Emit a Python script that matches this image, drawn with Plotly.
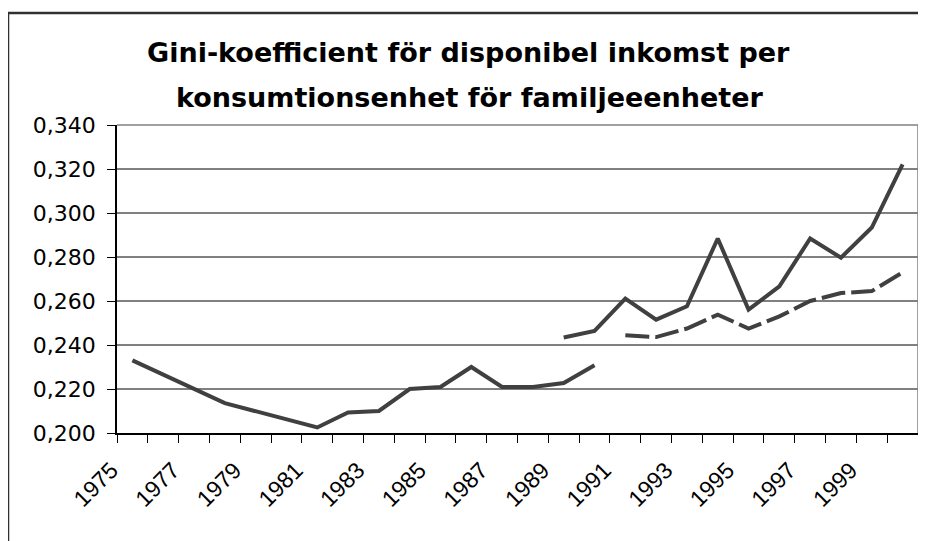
import plotly.graph_objects as go

years = list(range(1975, 2001))

# Series 1: solid, 1975-1990 (gaps bridged as in the original)
series_old = [0.2330, None, None, 0.2136, None, None, 0.2025, 0.2093, 0.2100, 0.2200,
              0.2209, 0.2300, 0.2209, 0.2209, 0.2227, 0.2308,
              None, None, None, None, None, None, None, None, None, None]

# Series 2: solid, 1989-2000
series_new = [None] * 14 + [0.2434, 0.2464, 0.2611, 0.2515, 0.2576, 0.2884, 0.2561,
                            0.2667, 0.2884, 0.2797, 0.2934, 0.3221]

# Series 3: dashed, 1991-2000
series_dash = [None] * 16 + [0.2444, 0.2436, 0.2475, 0.2538, 0.2475, 0.2530, 0.2600,
                             0.2636, 0.2645, 0.2730]

x_labels = [str(y) for y in range(1975, 2000, 2)]
y_ticks = [0.200, 0.220, 0.240, 0.260, 0.280, 0.300, 0.320, 0.340]

title_lines = ["Gini-koefficient för disponibel inkomst per",
               "konsumtionsenhet för familjeeenheter"]

LINE = "#404040"
FONT_X = "Liberation Sans, Arial, sans-serif"
FONT_W = "DejaVu Sans, Verdana, sans-serif"

OFF = 8  # browser body margin
W, H = 926 - OFF, 541 - OFF
# plot area in page pixels: x 117..918, y 125..433
ML = 117 - OFF
MR = W - (918 - OFF)
MT = 125 - OFF
MB = H - (433 - OFF)
PW, PH = W - ML - MR, H - MT - MB


def px2x(px):
    return (px - OFF - ML) / PW


def py2y(py):
    return (H - MB - (py - OFF)) / PH


fig = go.Figure()
fig.add_trace(go.Scatter(x=years, y=series_old, mode="lines", connectgaps=True,
                         line=dict(color=LINE, width=4), showlegend=False))
fig.add_trace(go.Scatter(x=years, y=series_new, mode="lines",
                         line=dict(color=LINE, width=4), showlegend=False))
fig.add_trace(go.Scatter(x=years, y=series_dash, mode="lines",
                         line=dict(color=LINE, width=4, dash="24px,6px"),
                         showlegend=False))

fig.update_layout(
    width=W, height=H,
    margin=dict(l=ML, r=MR, t=MT, b=MB),
    paper_bgcolor="white", plot_bgcolor="white",
    separators=", ",
    font=dict(family=FONT_X, color="black", size=22),
    xaxis=dict(
        range=[1974.5, 2000.5],
        tickmode="array",
        tickvals=list(range(1975, 2000, 2)),
        ticktext=x_labels,
        tickangle=-45,
        ticks="",
        ticklabelshift=-21,
        ticklabelstandoff=13,
        showgrid=False,
        zeroline=False,
        showline=True, linecolor="black", linewidth=1.5,
        minor=dict(ticks="outside", ticklen=8, tickcolor="black", tickwidth=1,
                   tick0=1974.5, dtick=1, showgrid=False),
        tickfont=dict(size=23, family=FONT_X),
    ),
    yaxis=dict(
        range=[0.2, 0.34],
        tickmode="array",
        tickvals=y_ticks,
        tickformat=".3f",
        ticks="outside", ticklen=8, tickcolor="black",
        ticklabelstandoff=7,
        showgrid=True, gridcolor="#808080", gridwidth=1.5,
        zeroline=False,
        showline=True, linecolor="black", linewidth=1.5,
        tickfont=dict(size=22, family=FONT_W),
    ),
)

# right border of plot area and top grid line
fig.add_shape(type="line", xref="paper", yref="paper", x0=1, x1=1, y0=0, y1=1,
              line=dict(color="#808080", width=1.5), layer="above")
fig.add_shape(type="line", xref="paper", yref="paper", x0=0, x1=1, y0=1, y1=1,
              line=dict(color="#808080", width=1.5), layer="below")

# outer frame (only top and left visible)
fig.add_shape(type="path", xref="paper", yref="paper",
              path=f"M {px2x(8)} {py2y(580)} L {px2x(8)} {py2y(13)} L {px2x(960)} {py2y(13)}",
              line=dict(color="#303030", width=2.5))

# title lines
fig.add_annotation(text=f"<b>{title_lines[0]}</b>", xref="paper", yref="paper",
                   x=px2x(468), y=py2y(53), xanchor="center", yanchor="middle",
                   showarrow=False, font=dict(size=27, family=FONT_W, color="black"))
fig.add_annotation(text=f"<b>{title_lines[1]}</b>", xref="paper", yref="paper",
                   x=px2x(470), y=py2y(97), xanchor="center", yanchor="middle",
                   showarrow=False, font=dict(size=27, family=FONT_W, color="black"))

fig.write_html("out.html")
